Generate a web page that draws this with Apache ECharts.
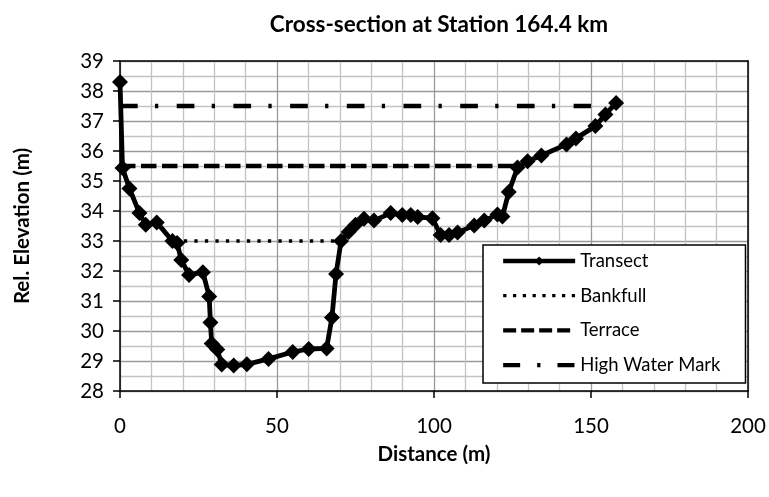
<!DOCTYPE html>
<html>
<head>
<meta charset="utf-8">
<script src="https://cdn.jsdelivr.net/npm/echarts@6/dist/echarts.min.js"></script>
<style>
html,body{margin:0;padding:0;background:#fff;}
#chart{width:769px;height:497px;}
</style>
</head>
<body>
<div id="chart"></div>
<script>
// Transect survey points (distance m, relative elevation m)
const transectDistance = [0, 0.8, 3, 6.2, 8.2, 11.7, 16.7, 18.2, 19.5, 22, 26.4, 28.4, 28.8, 29.2, 31, 32.4, 36.2, 40.4, 47.3, 55, 60.1, 65.8, 67.5, 68.8, 70.4, 72.8, 75, 77.7, 80.9, 86.2, 89.9, 92.6, 94.8, 99.5, 102.1, 104.8, 107.5, 112.8, 116, 120.2, 121.8, 123.8, 126.6, 129.8, 134.2, 142.2, 145.2, 151.4, 154.6, 158];
const transectElevation = [38.3, 35.43, 34.75, 33.93, 33.54, 33.62, 33.0, 32.93, 32.37, 31.87, 31.96, 31.15, 30.28, 29.58, 29.38, 28.88, 28.85, 28.89, 29.07, 29.3, 29.4, 29.42, 30.45, 31.9, 33.0, 33.3, 33.54, 33.74, 33.68, 33.93, 33.87, 33.87, 33.8, 33.76, 33.2, 33.2, 33.28, 33.52, 33.68, 33.88, 33.82, 34.63, 35.45, 35.66, 35.85, 36.22, 36.42, 36.83, 37.22, 37.6];

// Reference levels: [start distance, end distance], elevation
const bankfullRange = [17, 70];
const bankfullLevel = 33;
const terraceRange = [0, 126];
const terraceLevel = 35.5;
const hwmRange = [0, 150];
const hwmLevel = 37.5;

const seriesNames = ['Transect', 'Bankfull', 'Terrace', 'High Water Mark'];
const titleText = 'Cross-section at Station 164.4 km';
const xTitle = 'Distance (m)';
const yTitle = 'Rel. Elevation (m)';

const FONT = 'Lato';
const transectData = transectDistance.map((d, i) => [d, transectElevation[i]]);
const levelLine = (range, level) => range.map(d => [d, level]);

const dotStyle = { color: '#000', width: 3.3, type: [3.3, 7.2] };
const dashStyle = { color: '#000', width: 4.3, type: [15.5, 5.5] };
const dashDotStyle = { color: '#000', width: 4.3, type: [17.7, 17.3, 3.3, 18.4] };

const chart = echarts.init(document.getElementById('chart'));
chart.setOption({
  animation: false,
  backgroundColor: '#fff',
  textStyle: { fontFamily: FONT, color: '#000' },
  title: {
    text: titleText,
    left: 434, textAlign: 'center',
    top: 8,
    textStyle: { fontFamily: FONT, fontSize: 22.5, fontWeight: 'bold', color: '#000' }
  },
  grid: { left: 120, right: 21, top: 61, bottom: 106, containLabel: false },
  legend: {
    orient: 'vertical',
    left: 483, top: 245,
    padding: [6, 25, 8, 18],
    itemWidth: 72, itemHeight: 11,
    itemGap: 14.7,
    backgroundColor: '#fff',
    borderColor: '#000', borderWidth: 1.5,
    textStyle: { fontFamily: FONT, fontSize: 18.5, color: '#000', lineHeight: 20, padding: [0,0,0,0] },
    data: [
      { name: seriesNames[0], lineStyle: { width: 4.3 } },
      { name: seriesNames[1], itemStyle: { opacity: 0 }, lineStyle: { width: 3.3, type: [3.3, 6.5] } },
      { name: seriesNames[2], itemStyle: { opacity: 0 }, lineStyle: { width: 4.3, type: [13, 5] } },
      { name: seriesNames[3], itemStyle: { opacity: 0 }, lineStyle: { width: 4.3, type: [17, 17, 3.3, 17] } }
    ]
  },
  xAxis: [{
    type: 'value', min: 0, max: 200, interval: 50,
    axisLine: { show: true, onZero: false, lineStyle: { color: '#000', width: 1.5 } },
    axisTick: { show: true, length: 7, lineStyle: { color: '#000', width: 1.5 } },
    axisLabel: { fontFamily: FONT, fontSize: 20.5, color: '#000', margin: 25 },
    splitLine: { show: true, lineStyle: { color: '#9a9a9a', width: 1.3 } },
    minorTick: { show: false, splitNumber: 5 },
    minorSplitLine: { show: true, lineStyle: { color: '#c3c3c3', width: 1.3 } },
    name: xTitle, nameLocation: 'middle', nameGap: 53,
    nameTextStyle: { fontFamily: FONT, fontSize: 20.5, fontWeight: 'bold', color: '#000' }
  }, {
    type: 'value', min: 0, max: 200, position: 'top',
    axisLine: { show: true, onZero: false, lineStyle: { color: '#000', width: 1.5 } },
    axisTick: { show: false }, axisLabel: { show: false }, splitLine: { show: false }
  }],
  yAxis: [{
    type: 'value', min: 28, max: 39, interval: 1,
    axisLine: { show: true, onZero: false, lineStyle: { color: '#000', width: 1.5 } },
    axisTick: { show: true, length: 7, lineStyle: { color: '#000', width: 1.5 } },
    axisLabel: { fontFamily: FONT, fontSize: 20.5, color: '#000', margin: 16 },
    splitLine: { show: true, lineStyle: { color: '#9a9a9a', width: 1.3 } },
    minorTick: { show: false, splitNumber: 2 },
    minorSplitLine: { show: true, lineStyle: { color: '#c3c3c3', width: 1.3 } },
    name: yTitle, nameLocation: 'middle', nameGap: 87, nameRotate: 90,
    nameTextStyle: { fontFamily: FONT, fontSize: 20.5, fontWeight: 'bold', color: '#000' }
  }, {
    type: 'value', min: 28, max: 39, position: 'right',
    axisLine: { show: true, onZero: false, lineStyle: { color: '#000', width: 1.5 } },
    axisTick: { show: false }, axisLabel: { show: false }, splitLine: { show: false }
  }],
  series: [
    {
      name: seriesNames[0], type: 'line', data: transectData,
      symbol: 'diamond', symbolSize: 16, showAllSymbol: true,
      lineStyle: { color: '#000', width: 4.8 },
      itemStyle: { color: '#000' }, z: 5
    },
    {
      name: seriesNames[1], type: 'line', data: levelLine(bankfullRange, bankfullLevel),
      symbol: 'none', lineStyle: dotStyle, itemStyle: { color: '#000' }, z: 3
    },
    {
      name: seriesNames[2], type: 'line', data: levelLine(terraceRange, terraceLevel),
      symbol: 'none', lineStyle: dashStyle, itemStyle: { color: '#000' }, z: 3
    },
    {
      name: seriesNames[3], type: 'line', data: levelLine(hwmRange, hwmLevel),
      symbol: 'none', lineStyle: dashDotStyle, itemStyle: { color: '#000' }, z: 3
    }
  ]
});
</script>
</body>
</html>
